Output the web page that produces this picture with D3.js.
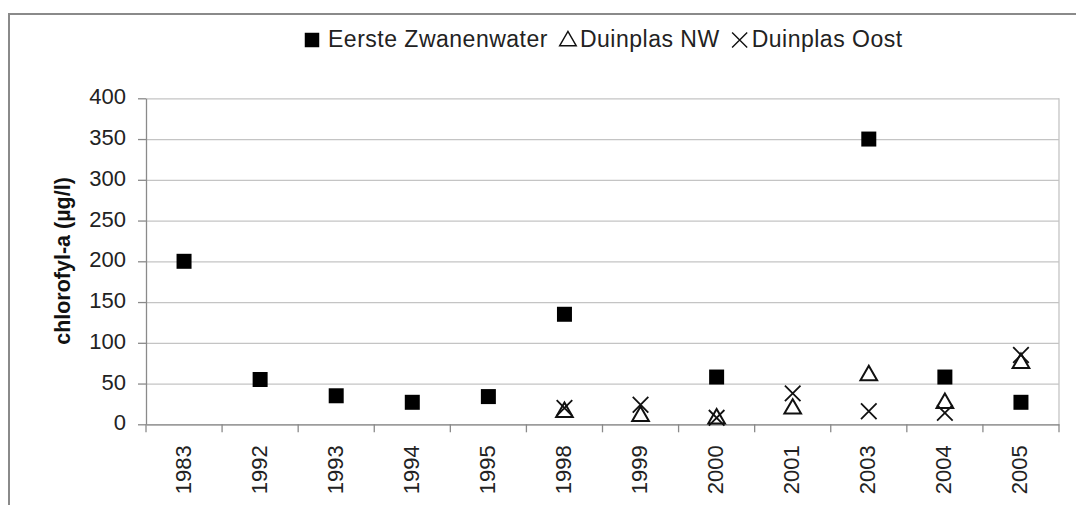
<!DOCTYPE html>
<html><head><meta charset="utf-8">
<script src="https://cdn.jsdelivr.net/npm/d3@7"></script>
<style>
html,body{margin:0;padding:0;background:#fff;}
svg{display:block;font-family:"Liberation Sans",Arial,sans-serif;}
</style></head>
<body>
<svg id="chart" width="1076" height="505"></svg>
<script>
const years = ["1983","1992","1993","1994","1995","1998","1999","2000","2001","2003","2004","2005"];
const eersteZwanenwater = [200, 55, 35, 27, 34, 135, null, 58, null, 350, 58, 27];
const duinplasNW = [null, null, null, null, null, 15, 10, 7, 19, 60, 26, 75];
const duinplasOost = [null, null, null, null, null, 20, 24, 8, 38, 16, 14, 85];
const yTicks = [0, 50, 100, 150, 200, 250, 300, 350, 400];
const seriesNames = ["Eerste Zwanenwater", "Duinplas NW", "Duinplas Oost"];
const yTitle = "chlorofyl-a (µg/l)";

(function () {
const svg = d3.select("#chart");
const pLeft = 146, pRight = 1059, pTop = 98.3, pBottom = 424.3;

// outer frame
svg.append("rect").attr("x", 9).attr("y", 14).attr("width", 1100).attr("height", 520)
  .attr("fill", "none").attr("stroke", "#8a8a8a").attr("stroke-width", 2);

const x = d3.scaleBand().domain(years).range([pLeft, pRight]).paddingInner(0).paddingOuter(0);
const y = d3.scaleLinear().domain([0, 400]).range([pBottom, pTop]);

// gridlines
const grid = svg.append("g").attr("transform", `translate(${pLeft},0)`)
  .call(d3.axisLeft(y).tickValues(yTicks).tickSize(-(pRight - pLeft)).tickFormat(""));
grid.select(".domain").remove();
grid.selectAll("line").attr("stroke", "#c4c4c4").attr("stroke-width", 1.3);

// right border
svg.append("line").attr("x1", pRight).attr("x2", pRight).attr("y1", pTop).attr("y2", pBottom)
  .attr("stroke", "#c4c4c4").attr("stroke-width", 1.3);

// y axis
const ya = svg.append("g").attr("transform", `translate(${pLeft},0)`)
  .call(d3.axisLeft(y).tickValues(yTicks).tickSize(8).tickPadding(12).tickSizeOuter(0));
ya.select(".domain").attr("stroke", "#8a8a8a").attr("stroke-width", 1.3);
ya.selectAll(".tick line").attr("stroke", "#8a8a8a").attr("stroke-width", 1.3);
ya.selectAll("text").attr("font-size", 22).attr("fill", "#222").attr("font-family", "Liberation Sans, Arial, sans-serif").attr("dy", "0.25em");

// x axis
const xa = svg.append("g").attr("transform", `translate(0,${pBottom})`)
  .call(d3.axisBottom(x).tickSize(0).tickSizeOuter(0));
xa.select(".domain").attr("stroke", "#8a8a8a").attr("stroke-width", 1.3);
xa.selectAll(".tick text")
  .attr("font-size", 22).attr("fill", "#222").attr("font-family", "Liberation Sans, Arial, sans-serif")
  .attr("text-anchor", "end").attr("dy", null).attr("y", 0)
  .attr("dominant-baseline", "central")
  .attr("transform", "translate(-1,21) rotate(-90)");
// category divider ticks
const bounds = years.map(d => x(d)).concat([x.range()[1]]);
svg.append("g").selectAll("line").data(bounds).join("line")
  .attr("x1", d => d).attr("x2", d => d).attr("y1", pBottom).attr("y2", pBottom + 8)
  .attr("stroke", "#8a8a8a").attr("stroke-width", 1.3);

// y title
svg.append("text").attr("transform", `translate(70,261) rotate(-90)`)
  .attr("text-anchor", "middle").attr("font-size", 21.5).attr("font-weight", "bold").attr("fill", "#111")
  .text(yTitle);

const cx = i => x(years[i]) + x.bandwidth() / 2;

// series markers
const sq = d3.symbol(d3.symbolSquare, 225);
const tri = d3.symbol(d3.symbolTriangle, 120);
const cross = d3.symbol(d3.symbolX, 160);

svg.append("g").selectAll("path").data(duinplasNW.map((v, i) => [v, i]).filter(d => d[0] != null)).join("path")
  .attr("d", tri).attr("transform", d => `translate(${cx(d[1])},${y(d[0])})`)
  .attr("fill", "none").attr("stroke", "#111").attr("stroke-width", 2);
svg.append("g").selectAll("path").data(duinplasOost.map((v, i) => [v, i]).filter(d => d[0] != null)).join("path")
  .attr("d", cross).attr("transform", d => `translate(${cx(d[1])},${y(d[0])})`)
  .attr("fill", "none").attr("stroke", "#111").attr("stroke-width", 1.8);
svg.append("g").selectAll("path").data(eersteZwanenwater.map((v, i) => [v, i]).filter(d => d[0] != null)).join("path")
  .attr("d", sq).attr("transform", d => `translate(${cx(d[1])},${y(d[0])})`)
  .attr("fill", "#000");

// legend
const lg = svg.append("g");
const ly = 39;
const legendSyms = [
  {s: d3.symbol(d3.symbolSquare, 210), fill: "#000", stroke: "none", sw: 0},
  {s: d3.symbol(d3.symbolTriangle, 120), fill: "none", stroke: "#111", sw: 1.4},
  {s: d3.symbol(d3.symbolX, 150), fill: "none", stroke: "#111", sw: 1.4}
];
let cursor = 304;
seriesNames.forEach((name, i) => {
  const sym = legendSyms[i];
  const sx = cursor + 8, tx = cursor + (i === 0 ? 24 : 20);
  lg.append("path").attr("d", sym.s).attr("transform", `translate(${sx},${ly + (i === 1 ? 2 : 1)})`)
    .attr("fill", sym.fill).attr("stroke", sym.stroke).attr("stroke-width", sym.sw);
  const t = lg.append("text").attr("x", tx).attr("y", ly + 7.5).attr("font-size", 23)
    .attr("letter-spacing", 0.5).attr("fill", "#222").text(name);
  cursor = tx + t.node().getComputedTextLength() + 12;
});
})();
</script>
</body></html>
